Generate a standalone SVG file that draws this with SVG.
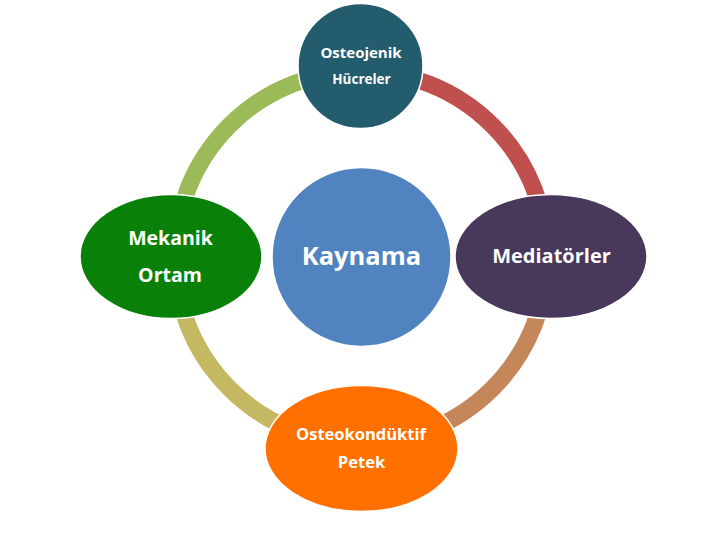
<svg xmlns="http://www.w3.org/2000/svg" width="728" height="546" viewBox="0 0 728 546">
<style>
.ring{fill:none;stroke-width:17}
.node{stroke:#ffffff;stroke-width:1.5}
.t{font-family:"Open Sans","Liberation Sans",sans-serif;font-weight:bold;fill:#ffffff;text-anchor:middle}
</style>
<rect width="728" height="546" fill="#ffffff"/>
<g id="connectors">
<path class="ring" d="M361,71 A186,186 0 0 1 547,257" stroke="#c0504d"/>
<path class="ring" d="M547,257 A186,186 0 0 1 361,443" stroke="#c5865a"/>
<path class="ring" d="M361,443 A186,186 0 0 1 175,257" stroke="#c4b962"/>
<path class="ring" d="M175,257 A186,186 0 0 1 361,71" stroke="#9bbb59"/>
</g>
<g id="center">
<circle class="node" cx="361.5" cy="257" r="89.5" fill="#5083c0"/>
<text class="t" x="361.5" y="265" font-size="25.5">Kaynama</text>
</g>
<g id="top">
<circle class="node" cx="360.5" cy="66" r="62.5" fill="#235c6c"/>
<text class="t" x="361" y="58" font-size="15">Osteojenik</text>
<text class="t" x="361.5" y="84" font-size="13.5">Hücreler</text>
</g>
<g id="right">
<ellipse class="node" cx="551" cy="256.5" rx="96" ry="62" fill="#48385b"/>
<text class="t" x="551.5" y="263" font-size="20">Mediatörler</text>
</g>
<g id="bottom">
<ellipse class="node" cx="361.5" cy="448.5" rx="96.5" ry="63" fill="#ff7000"/>
<text class="t" x="361" y="440" font-size="16.5">Osteokondüktif</text>
<text class="t" x="361.5" y="468" font-size="16.5">Petek</text>
</g>
<g id="left">
<ellipse class="node" cx="171" cy="256.5" rx="91" ry="62" fill="#098109"/>
<text class="t" x="170.5" y="245" font-size="19.5">Mekanik</text>
<text class="t" x="170" y="282" font-size="19.5">Ortam</text>
</g>
</svg>
